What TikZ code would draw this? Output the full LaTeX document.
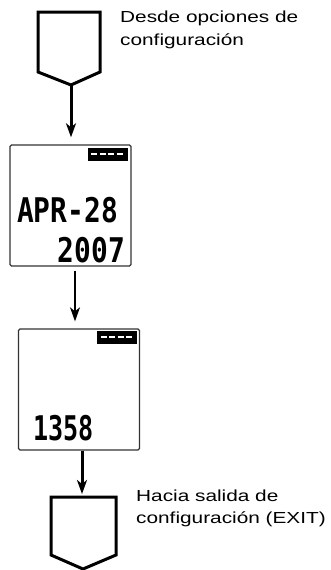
\documentclass[tikz,border=0pt]{standalone}
\usepackage{fontspec}
\setmainfont{Liberation Sans}
\newfontfamily\notefont[FakeStretch=1.3]{Liberation Sans}
\newfontfamily\lcdfont[FakeStretch=0.82]{DejaVu Sans Mono}
\usepackage{tikz}
\usetikzlibrary{arrows.meta,calc,positioning}
\definecolor{frame}{HTML}{333333}
\tikzset{
  display/.style={draw=frame,line width=1.4pt,rounded corners=1.5pt,minimum width=121pt,minimum height=121pt,inner sep=0pt},
  battery/.style={fill=black,minimum width=40pt,minimum height=13pt,inner sep=0pt,anchor=north east},
  offpage/.style={line width=3pt,line join=miter},
  flow/.style={-{Stealth[length=14pt,width=10pt,inset=4pt]},line width=3pt},
  thinflow/.style={-{Stealth[length=14pt,width=10pt,inset=4pt]},line width=1.2pt},
  note/.style={font=\notefont\fontsize{16}{22}\selectfont,align=left,anchor=base west,inner sep=0pt},
  lcd/.style={font=\lcdfont\bfseries\fontsize{34}{34}\selectfont,inner sep=0pt},
}

\begin{document}
\begin{tikzpicture}[x=1pt,y=-1pt]
  \useasboundingbox (0,0) rectangle (331,570);
  % entrada
  \draw[offpage] (38,12) -- (100,12) -- (100,72) -- (71,85) -- (38,72) -- cycle;
  \coordinate (intip) at (71,85);
  \node[note] (innote) at (120,45) {Desde opciones de\\configuración};
  % pantalla fecha
  \node[display] (date) at (70.5,205.5) {};
  \node[battery] (bat1) at ([xshift=-4pt,yshift=-3pt]date.north east) {};
  \draw[white,line width=2pt,dash pattern=on 6pt off 2.5pt] ([xshift=4pt]bat1.west) -- ([xshift=-4pt]bat1.east);
  \node[lcd,anchor=base west] (month) at (17,222) {APR-28};
  \node[lcd,anchor=base east] (year) at (125,262) {2007};
  % pantalla hora
  \node[display] (time) at (79,389.5) {};
  \node[battery] (bat2) at ([xshift=-3pt,yshift=-2pt]time.north east) {};
  \draw[white,line width=2pt,dash pattern=on 6pt off 2.5pt] ([xshift=4pt]bat2.west) -- ([xshift=-4pt]bat2.east);
  \node[lcd,anchor=base west,xscale=0.9] (clock) at (33,440) {1358};
  % salida
  \draw[offpage] (51,497) -- (116,497) -- (116,555) -- (83,569) -- (51,555) -- cycle;
  \coordinate (outtop) at (82,497);
  \node[note] (outnote) at (136,523) {Hacia salida de\\configuración (EXIT)};
  % flechas
  \draw[flow,shorten >=7pt] (intip) -- (intip |- date.north);
  \draw[thinflow,shorten <=4pt,shorten >=7pt] ([xshift=4.5pt]date.south) -- ([xshift=4.5pt]date.south |- time.north);
  \draw[flow,shorten >=3pt] ([xshift=3pt]time.south) -- (outtop);
\end{tikzpicture}
\end{document}
